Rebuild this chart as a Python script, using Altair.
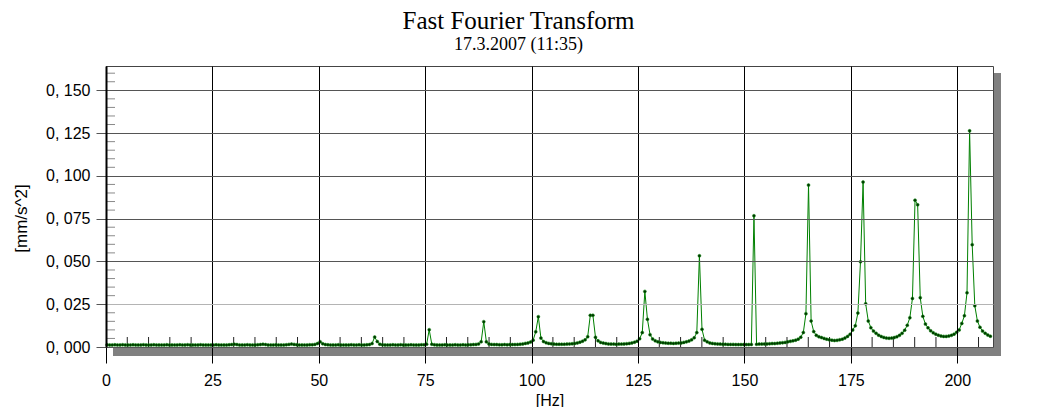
import altair as alt
import pandas as pd
import numpy as np

# Spectrum: bin spacing (Hz) and first bin frequency
DF_HZ = 0.6104
F0_HZ = 0.25

amp_a = [0.0013, 0.0012, 0.0012, 0.0013, 0.0012, 0.0012, 0.0013, 0.0012, 0.0012, 0.0012,
         0.0013, 0.0012, 0.0012, 0.0012, 0.0013, 0.0012, 0.0012, 0.0012, 0.0013, 0.0012,
         0.0012, 0.0012, 0.0012, 0.0013, 0.0012, 0.0012, 0.0012, 0.0012, 0.0013, 0.0012,
         0.0012, 0.0013, 0.0012, 0.0012, 0.0012, 0.0012, 0.0013, 0.0012, 0.0012, 0.0012,
         0.0012, 0.0012, 0.0013, 0.0012, 0.0012, 0.0012, 0.0012, 0.0013, 0.0014, 0.0016,
         0.0014, 0.0012, 0.0012, 0.0012, 0.0013, 0.0012, 0.0012, 0.0012, 0.0013, 0.0014,
         0.0016, 0.0014, 0.0012, 0.0012, 0.0012, 0.0013, 0.0012, 0.0012, 0.0012, 0.0013,
         0.0015, 0.0017, 0.0015, 0.0013, 0.0012, 0.0012, 0.0012, 0.0012, 0.0013, 0.0013,
         0.0015]
amp_b = [0.0020, 0.0031, 0.0019, 0.0014,
         0.0013, 0.0012, 0.0012, 0.0012, 0.0013, 0.0012, 0.0012, 0.0012, 0.0012, 0.0013,
         0.0012, 0.0012, 0.0013, 0.0012, 0.0012, 0.0013, 0.0014]
amp_c = [0.0020, 0.0058, 0.0032, 0.0016,
         0.0013, 0.0012, 0.0012, 0.0012, 0.0013, 0.0012, 0.0012, 0.0013, 0.0012, 0.0012,
         0.0012, 0.0013, 0.0012, 0.0012, 0.0012, 0.0013, 0.0013, 0.0016]
amp_d = [0.0101, 0.0016,
         0.0013, 0.0012, 0.0012, 0.0012, 0.0013, 0.0012, 0.0012, 0.0012, 0.0013, 0.0012,
         0.0012, 0.0013, 0.0012, 0.0013, 0.0013, 0.0014, 0.0015, 0.0018, 0.0031, 0.0148]
amp_e = [0.0030, 0.0018, 0.0015, 0.0014, 0.0014, 0.0013, 0.0013, 0.0014, 0.0013, 0.0014,
         0.0014, 0.0014, 0.0015, 0.0016, 0.0018, 0.0021, 0.0024, 0.0029, 0.0040, 0.0089,
         0.0177]
amp_f = [0.0052, 0.0032, 0.0025, 0.0021, 0.0019, 0.0017, 0.0016, 0.0016, 0.0016, 0.0016,
         0.0017, 0.0018, 0.0019, 0.0021, 0.0024, 0.0028, 0.0034, 0.0042, 0.0060, 0.0185,
         0.0185]
amp_g = [0.0057, 0.0036, 0.0027, 0.0023, 0.0020, 0.0018, 0.0017, 0.0017, 0.0016, 0.0017,
         0.0017, 0.0018, 0.0019, 0.0021, 0.0024, 0.0028, 0.0034, 0.0048, 0.0084, 0.0325,
         0.0162]
amp_h = [0.0072, 0.0047, 0.0036, 0.0030, 0.0027, 0.0025, 0.0023, 0.0022, 0.0022, 0.0021,
         0.0022, 0.0023, 0.0024, 0.0027, 0.0030, 0.0035, 0.0042, 0.0054, 0.0084, 0.0533,
         0.0103]
amp_i = [0.0040, 0.0030, 0.0024, 0.0021, 0.0019, 0.0018, 0.0017, 0.0016, 0.0016, 0.0015,
         0.0015, 0.0015, 0.0014, 0.0014, 0.0014, 0.0014, 0.0014, 0.0014, 0.0015, 0.0767]
amp_j = [0.0016, 0.0017, 0.0017, 0.0018, 0.0018, 0.0019, 0.0020, 0.0020, 0.0022, 0.0024,
         0.0025, 0.0027, 0.0030, 0.0033, 0.0036, 0.0040, 0.0046, 0.0057, 0.0085, 0.0195,
         0.0946]
amp_k = [0.0152, 0.0090, 0.0068, 0.0060, 0.0055, 0.0050, 0.0046, 0.0042, 0.0040, 0.0038,
         0.0039, 0.0042, 0.0046, 0.0052, 0.0062, 0.0074, 0.0099, 0.0124, 0.0198, 0.0498,
         0.0964]
amp_l = [0.0253, 0.0152, 0.0113, 0.0093, 0.0080, 0.0069, 0.0061, 0.0056, 0.0052, 0.0051,
         0.0052, 0.0055, 0.0060, 0.0068, 0.0080, 0.0098, 0.0127, 0.0171, 0.0284, 0.0858,
         0.0831]
amp_m = [0.0288, 0.0179, 0.0134, 0.0112, 0.0095, 0.0083, 0.0075, 0.0069, 0.0064, 0.0062,
         0.0062, 0.0064, 0.0068, 0.0075, 0.0086, 0.0100, 0.0138, 0.0183, 0.0317, 0.1263,
         0.0598, 0.0241, 0.0152, 0.0115, 0.0093, 0.0080, 0.0070, 0.0063]

amp = (amp_a + amp_b + amp_c + amp_d + amp_e + amp_f + amp_g + amp_h + amp_i
       + amp_j + amp_k + amp_l + amp_m)
freq = F0_HZ + DF_HZ * np.arange(len(amp))

x_major = [0, 25, 50, 75, 100, 125, 150, 175, 200]
x_minor = [5, 10, 15, 20, 30, 35, 40, 45, 55, 60, 65, 70, 80, 85, 90, 95, 105, 110, 115, 120,
           130, 135, 140, 145, 155, 160, 165, 170, 180, 185, 190, 195, 205]
y_major = [0.0, 0.025, 0.05, 0.075, 0.1, 0.125, 0.15]
y_minor = [0.005, 0.010, 0.015, 0.020, 0.030, 0.035, 0.040, 0.045, 0.055, 0.060, 0.065, 0.070,
           0.080, 0.085, 0.090, 0.095, 0.105, 0.110, 0.115, 0.120, 0.130, 0.135, 0.140, 0.145,
           0.155, 0.160]

X_MAX = 208.4
Y_MAX = 0.1642
W, H = 887, 281

df = pd.DataFrame({"freq": freq, "amp": amp})
df_xm = pd.DataFrame({"freq": x_minor})
df_ym = pd.DataFrame({"amp": y_minor})
df_one = pd.DataFrame({"k": [0]})

x_axis = alt.Axis(values=x_major, tickSize=16, tickColor="#000000", tickWidth=1,
                  grid=True, gridColor="#000000", gridWidth=1, gridOpacity=1,
                  domain=True, domainColor="#555555", domainWidth=1,
                  labelFont="Liberation Sans", labelFontSize=16, labelColor="#000000",
                  labelPadding=9, labelFlush=False,
                  titleFont="Liberation Sans", titleFontSize=16, titleFontWeight="normal",
                  titleColor="#000000", titlePadding=4, zindex=1)
y_axis = alt.Axis(values=y_major, tickSize=10, tickColor="#555555", tickWidth=1,
                  grid=True,
                  gridColor=alt.condition("abs(datum.value - 0.025) < 0.000001",
                                          alt.value("#b4b4b4"), alt.value("#555555")),
                  gridWidth=1, gridOpacity=1,
                  domain=True, domainColor="#000000", domainWidth=2,
                  labelFont="Liberation Sans", labelFontSize=16, labelColor="#000000",
                  labelPadding=6, labelFlush=False,
                  labelExpr="replace(format(datum.value, '.3f'), '.', ', ')",
                  titleFont="Liberation Sans", titleFontSize=17, titleFontWeight="normal",
                  titleColor="#000000", titleX=-85, titleY=152, titleBaseline="middle",
                  titleAngle=-90, zindex=1)

X = alt.X("freq:Q", scale=alt.Scale(domain=[0, X_MAX], nice=False, zero=False),
          axis=x_axis, title="[Hz]")
Y = alt.Y("amp:Q", scale=alt.Scale(domain=[0, Y_MAX], nice=False),
          axis=y_axis, title="[mm/s^2]")

shadow_bottom = alt.Chart(df_one).mark_rect(color="#808080").encode(
    x=alt.value(7), x2=alt.value(W + 8), y=alt.value(H + 1), y2=alt.value(H + 9))
shadow_right = alt.Chart(df_one).mark_rect(color="#808080").encode(
    x=alt.value(W + 1), x2=alt.value(W + 8), y=alt.value(7), y2=alt.value(H + 9))

xminor = alt.Chart(df_xm).mark_rule(color="#222222", strokeWidth=1).encode(
    x=X, y=alt.value(H - 10), y2=alt.value(H))
yminor = alt.Chart(df_ym).mark_rule(color="#8a8a8a", strokeWidth=1).encode(
    y=Y, x=alt.value(0), x2=alt.value(9))

line = alt.Chart(df).mark_line(color="#008000", strokeWidth=1).encode(x=X, y=Y)
pts = alt.Chart(df).mark_circle(size=9, fill="#003300", stroke="#0a8a0a",
                                strokeWidth=0.5, opacity=1).encode(x=X, y=Y)

chart = alt.layer(shadow_bottom, shadow_right, xminor, yminor, line, pts).properties(
    width=W, height=H,
    title=alt.TitleParams(text="Fast Fourier Transform", subtitle="17.3.2007 (11:35)",
                          font="Liberation Serif", fontSize=25, fontWeight="normal",
                          color="#000000", subtitleFont="Liberation Serif",
                          subtitleFontSize=18, subtitleColor="#000000",
                          subtitlePadding=2, anchor="middle", dx=-31, offset=12),
    autosize=alt.AutoSizeParams(type="none"),
    padding={"left": 98, "top": 58, "right": 36, "bottom": 60},
    background="#ffffff",
).configure_view(stroke="#444444", strokeWidth=1, fill="#ffffff")

chart.save("out.html", embed_options={"renderer": "svg", "actions": False})
